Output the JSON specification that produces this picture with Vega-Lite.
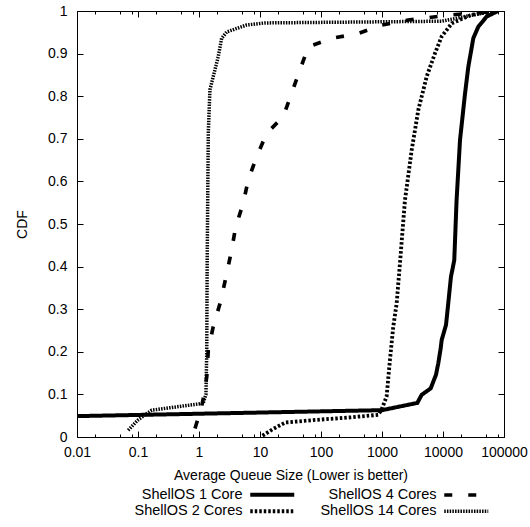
{
  "$schema": "https://vega.github.io/schema/vega-lite/v6.json",
  "autosize": {"type": "none"},
  "width": 427,
  "height": 426,
  "padding": {"left": 77, "top": 11, "right": 26, "bottom": 90},
  "background": "white",
  "config": {
    "font": "Liberation Sans",
    "view": {"stroke": "black", "strokeWidth": 1},
    "axis": {
      "domain": false,
      "grid": false,
      "tickColor": "black",
      "tickWidth": 1,
      "labelColor": "black",
      "titleColor": "black",
      "labelFont": "Liberation Sans",
      "titleFont": "Liberation Sans",
      "labelFontSize": 14,
      "titleFontSize": 14,
      "titleFontWeight": "normal"
    },
    "legend": {
      "labelFont": "Liberation Sans",
      "labelFontSize": 14.5,
      "labelColor": "black"
    }
  },
  "datasets": {
    "cdf": [
      {"s": "ShellOS 1 Core", "i": 1, "x": 0.01, "y": 0.049},
      {"s": "ShellOS 1 Core", "i": 2, "x": 1000, "y": 0.063},
      {"s": "ShellOS 1 Core", "i": 3, "x": 3800, "y": 0.08},
      {"s": "ShellOS 1 Core", "i": 4, "x": 4470, "y": 0.099},
      {"s": "ShellOS 1 Core", "i": 5, "x": 6280, "y": 0.114},
      {"s": "ShellOS 1 Core", "i": 6, "x": 7670, "y": 0.146},
      {"s": "ShellOS 1 Core", "i": 7, "x": 8370, "y": 0.173},
      {"s": "ShellOS 1 Core", "i": 8, "x": 9160, "y": 0.208},
      {"s": "ShellOS 1 Core", "i": 9, "x": 9520, "y": 0.228},
      {"s": "ShellOS 1 Core", "i": 10, "x": 11200, "y": 0.263},
      {"s": "ShellOS 1 Core", "i": 11, "x": 12200, "y": 0.314},
      {"s": "ShellOS 1 Core", "i": 12, "x": 13500, "y": 0.376},
      {"s": "ShellOS 1 Core", "i": 13, "x": 15300, "y": 0.415},
      {"s": "ShellOS 1 Core", "i": 14, "x": 16700, "y": 0.556},
      {"s": "ShellOS 1 Core", "i": 15, "x": 19000, "y": 0.697},
      {"s": "ShellOS 1 Core", "i": 16, "x": 23000, "y": 0.807},
      {"s": "ShellOS 1 Core", "i": 17, "x": 26000, "y": 0.869},
      {"s": "ShellOS 1 Core", "i": 18, "x": 31400, "y": 0.936},
      {"s": "ShellOS 1 Core", "i": 19, "x": 37900, "y": 0.963},
      {"s": "ShellOS 1 Core", "i": 20, "x": 52000, "y": 0.987},
      {"s": "ShellOS 1 Core", "i": 21, "x": 80000, "y": 1.0},

      {"s": "ShellOS 2 Cores", "i": 1, "x": 11, "y": 0.003},
      {"s": "ShellOS 2 Cores", "i": 2, "x": 16, "y": 0.018},
      {"s": "ShellOS 2 Cores", "i": 3, "x": 26, "y": 0.034},
      {"s": "ShellOS 2 Cores", "i": 4, "x": 80, "y": 0.04},
      {"s": "ShellOS 2 Cores", "i": 5, "x": 300, "y": 0.046},
      {"s": "ShellOS 2 Cores", "i": 6, "x": 870, "y": 0.052},
      {"s": "ShellOS 2 Cores", "i": 7, "x": 1000, "y": 0.067},
      {"s": "ShellOS 2 Cores", "i": 8, "x": 1190, "y": 0.095},
      {"s": "ShellOS 2 Cores", "i": 9, "x": 1350, "y": 0.181},
      {"s": "ShellOS 2 Cores", "i": 10, "x": 1530, "y": 0.259},
      {"s": "ShellOS 2 Cores", "i": 11, "x": 1740, "y": 0.314},
      {"s": "ShellOS 2 Cores", "i": 12, "x": 1970, "y": 0.408},
      {"s": "ShellOS 2 Cores", "i": 13, "x": 2380, "y": 0.556},
      {"s": "ShellOS 2 Cores", "i": 14, "x": 3070, "y": 0.674},
      {"s": "ShellOS 2 Cores", "i": 15, "x": 3940, "y": 0.768},
      {"s": "ShellOS 2 Cores", "i": 16, "x": 5400, "y": 0.846},
      {"s": "ShellOS 2 Cores", "i": 17, "x": 7400, "y": 0.901},
      {"s": "ShellOS 2 Cores", "i": 18, "x": 9500, "y": 0.94},
      {"s": "ShellOS 2 Cores", "i": 19, "x": 13900, "y": 0.971},
      {"s": "ShellOS 2 Cores", "i": 20, "x": 29500, "y": 0.991},
      {"s": "ShellOS 2 Cores", "i": 21, "x": 70000, "y": 1.0},

      {"s": "ShellOS 4 Cores", "i": 1, "x": 0.86, "y": 0.02},
      {"s": "ShellOS 4 Cores", "i": 2, "x": 1.1, "y": 0.07},
      {"s": "ShellOS 4 Cores", "i": 3, "x": 1.25, "y": 0.11},
      {"s": "ShellOS 4 Cores", "i": 4, "x": 1.34, "y": 0.142},
      {"s": "ShellOS 4 Cores", "i": 5, "x": 1.42, "y": 0.204},
      {"s": "ShellOS 4 Cores", "i": 6, "x": 1.71, "y": 0.259},
      {"s": "ShellOS 4 Cores", "i": 7, "x": 2.26, "y": 0.318},
      {"s": "ShellOS 4 Cores", "i": 8, "x": 2.77, "y": 0.376},
      {"s": "ShellOS 4 Cores", "i": 9, "x": 3.43, "y": 0.439},
      {"s": "ShellOS 4 Cores", "i": 10, "x": 4.0, "y": 0.494},
      {"s": "ShellOS 4 Cores", "i": 11, "x": 5.3, "y": 0.548},
      {"s": "ShellOS 4 Cores", "i": 12, "x": 6.4, "y": 0.603},
      {"s": "ShellOS 4 Cores", "i": 13, "x": 8.8, "y": 0.658},
      {"s": "ShellOS 4 Cores", "i": 14, "x": 12.9, "y": 0.713},
      {"s": "ShellOS 4 Cores", "i": 15, "x": 24, "y": 0.752},
      {"s": "ShellOS 4 Cores", "i": 16, "x": 33, "y": 0.807},
      {"s": "ShellOS 4 Cores", "i": 17, "x": 45, "y": 0.861},
      {"s": "ShellOS 4 Cores", "i": 18, "x": 62, "y": 0.916},
      {"s": "ShellOS 4 Cores", "i": 19, "x": 150, "y": 0.936},
      {"s": "ShellOS 4 Cores", "i": 20, "x": 408, "y": 0.947},
      {"s": "ShellOS 4 Cores", "i": 21, "x": 990, "y": 0.967},
      {"s": "ShellOS 4 Cores", "i": 22, "x": 2700, "y": 0.979},
      {"s": "ShellOS 4 Cores", "i": 23, "x": 14000, "y": 0.991},
      {"s": "ShellOS 4 Cores", "i": 24, "x": 80000, "y": 1.0},

      {"s": "ShellOS 14 Cores", "i": 1, "x": 0.069, "y": 0.016},
      {"s": "ShellOS 14 Cores", "i": 2, "x": 0.1, "y": 0.04},
      {"s": "ShellOS 14 Cores", "i": 3, "x": 0.139, "y": 0.055},
      {"s": "ShellOS 14 Cores", "i": 4, "x": 0.168, "y": 0.063},
      {"s": "ShellOS 14 Cores", "i": 5, "x": 1.17, "y": 0.079},
      {"s": "ShellOS 14 Cores", "i": 6, "x": 1.3, "y": 0.1},
      {"s": "ShellOS 14 Cores", "i": 7, "x": 1.34, "y": 0.2},
      {"s": "ShellOS 14 Cores", "i": 8, "x": 1.36, "y": 0.4},
      {"s": "ShellOS 14 Cores", "i": 9, "x": 1.42, "y": 0.713},
      {"s": "ShellOS 14 Cores", "i": 10, "x": 1.51, "y": 0.815},
      {"s": "ShellOS 14 Cores", "i": 11, "x": 1.71, "y": 0.846},
      {"s": "ShellOS 14 Cores", "i": 12, "x": 2.07, "y": 0.893},
      {"s": "ShellOS 14 Cores", "i": 13, "x": 2.35, "y": 0.936},
      {"s": "ShellOS 14 Cores", "i": 14, "x": 2.85, "y": 0.951},
      {"s": "ShellOS 14 Cores", "i": 15, "x": 6.0, "y": 0.967},
      {"s": "ShellOS 14 Cores", "i": 16, "x": 12, "y": 0.972},
      {"s": "ShellOS 14 Cores", "i": 17, "x": 9500, "y": 0.976},
      {"s": "ShellOS 14 Cores", "i": 18, "x": 23000, "y": 0.987},
      {"s": "ShellOS 14 Cores", "i": 19, "x": 60000, "y": 0.998},
      {"s": "ShellOS 14 Cores", "i": 20, "x": 80000, "y": 1.0}
    ]
  },
  "data": {"name": "cdf"},
  "resolve": {"axis": {"x": "independent", "y": "independent"}},
  "layer": [
    {
      "mark": {"type": "line", "color": "black", "clip": true, "strokeCap": "butt"},
      "encoding": {
        "x": {
          "field": "x", "type": "quantitative",
          "scale": {"type": "log", "domain": [0.01, 100000], "nice": false},
          "axis": {
            "orient": "bottom",
            "values": [0.01, 0.1, 1, 10, 100, 1000, 10000, 100000],
            "labelExpr": "datum.value >= 1 ? format(datum.value, 'd') : format(datum.value, '.2~f')",
            "tickSize": -6,
            "labelPadding": 14,
            "labelFlush": false,
            "labelOverlap": false,
            "title": "Average Queue Size (Lower is better)",
            "titlePadding": 9
          }
        },
        "y": {
          "field": "y", "type": "quantitative",
          "scale": {"domain": [0, 1], "nice": false, "zero": false},
          "axis": {
            "orient": "left",
            "values": [0, 0.1, 0.2, 0.3, 0.4, 0.5, 0.6, 0.7, 0.8, 0.9, 1],
            "format": "~g",
            "tickSize": -6,
            "labelPadding": 16,
            "labelFlush": false,
            "labelOverlap": false,
            "title": "CDF",
            "titlePadding": 18
          }
        },
        "order": {"field": "i"},
        "strokeDash": {
          "field": "s", "type": "nominal",
          "scale": {
            "domain": ["ShellOS 1 Core", "ShellOS 2 Cores", "ShellOS 4 Cores", "ShellOS 14 Cores"],
            "range": [[1, 0], [2.5, 2], [8, 16], [1.5, 1.2]]
          },
          "legend": {
            "title": null,
            "orient": "none",
            "legendX": 188,
            "legendY": 476,
            "columns": 2,
            "symbolType": "M-5,0H5",
            "symbolSize": 77.4,
            "symbolStrokeColor": "black",
            "labelAlign": "right",
            "labelOffset": -37,
            "labelLimit": 300,
            "columnPadding": 17,
            "rowPadding": 0
          }
        },
        "strokeWidth": {
          "field": "s", "type": "ordinal",
          "scale": {
            "domain": ["ShellOS 1 Core", "ShellOS 2 Cores", "ShellOS 4 Cores", "ShellOS 14 Cores"],
            "range": [4, 3.5, 2, 4]
          },
          "legend": {
            "title": null,
            "orient": "none",
            "legendX": 188,
            "legendY": 476,
            "columns": 2,
            "symbolType": "M-5,0H5",
            "symbolSize": 77.4,
            "symbolStrokeColor": "black",
            "labelAlign": "right",
            "labelOffset": -37,
            "labelLimit": 300,
            "columnPadding": 17,
            "rowPadding": 0
          }
        }
      }
    },
    {
      "mark": {"type": "point", "opacity": 0},
      "encoding": {
        "x": {
          "field": "x", "type": "quantitative", "scale": {"type": "log"},
          "axis": {"orient": "top", "values": [0.01, 0.1, 1, 10, 100, 1000, 10000, 100000], "labels": false, "tickSize": -6, "title": null}
        },
        "y": {
          "field": "y", "type": "quantitative",
          "axis": {"orient": "right", "values": [0, 0.1, 0.2, 0.3, 0.4, 0.5, 0.6, 0.7, 0.8, 0.9, 1], "labels": false, "tickSize": -6, "title": null}
        }
      }
    },
    {
      "mark": {"type": "point", "opacity": 0},
      "encoding": {
        "x": {
          "field": "x", "type": "quantitative", "scale": {"type": "log"},
          "axis": {"orient": "bottom", "values": [0.02, 0.05, 0.08, 0.2, 0.5, 0.8, 2, 5, 8, 20, 50, 80, 200, 500, 800, 2000, 5000, 8000, 20000, 50000, 80000], "labels": false, "tickSize": -3, "title": null}
        },
        "y": {"field": "y", "type": "quantitative", "axis": null}
      }
    },
    {
      "mark": {"type": "point", "opacity": 0},
      "encoding": {
        "x": {
          "field": "x", "type": "quantitative", "scale": {"type": "log"},
          "axis": {"orient": "top", "values": [0.02, 0.05, 0.08, 0.2, 0.5, 0.8, 2, 5, 8, 20, 50, 80, 200, 500, 800, 2000, 5000, 8000, 20000, 50000, 80000], "labels": false, "tickSize": -3, "title": null}
        },
        "y": {"field": "y", "type": "quantitative", "axis": null}
      }
    }
  ]
}
